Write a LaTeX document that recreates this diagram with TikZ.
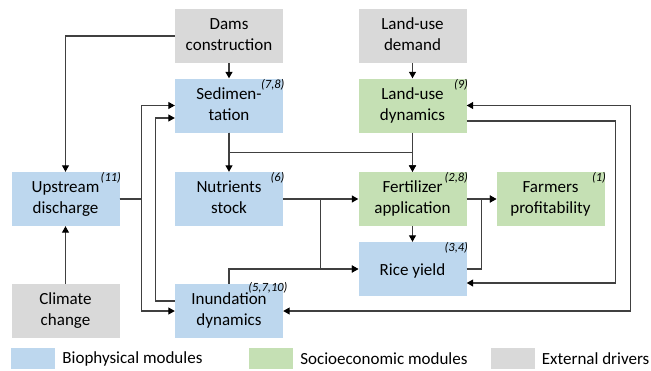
\documentclass[tikz,border=0pt]{standalone}
\usepackage{fontspec}
\setmainfont{Carlito}
\usetikzlibrary{arrows.meta,positioning}
\definecolor{biocol}{HTML}{BDD7EE}
\definecolor{soccol}{HTML}{C5E0B4}
\definecolor{extcol}{HTML}{D9D9D9}
\definecolor{linecol}{HTML}{404040}

\begin{document}
\begin{tikzpicture}[x=1pt, y=-1pt,
    box/.style={minimum width=108pt, minimum height=54pt, inner sep=0pt,
        align=center, font=\fontsize{17}{21}\selectfont,
        execute at begin node={\rule{0pt}{16.5pt}},
        execute at end node={\rule[-3.5pt]{0pt}{3.5pt}}},
    bio/.style={box, fill=biocol},
    soc/.style={box, fill=soccol},
    ext/.style={box, fill=extcol},
    num/.style={anchor=north east, inner sep=0.5pt, xshift=2pt,
        font=\fontsize{12.5}{14}\selectfont\itshape},
    link/.style={draw=linecol, line width=1.1pt,
        -{Triangle[length=6.5pt, width=7pt, color=black]}},
    biarrow/.style={draw=linecol, line width=1.1pt,
        {Triangle[length=6.5pt, width=7pt, color=black]}-{Triangle[length=6.5pt, width=7pt, color=black]}},
    legbox/.style={minimum width=44pt, minimum height=21pt, inner sep=0pt},
    legtext/.style={anchor=west, inner sep=0pt, xshift=7pt,
        font=\fontsize{17}{21}\selectfont}]
    \useasboundingbox (0,0) rectangle (651,370);

    \node[ext] (dams) at (229,36)    {Dams\\construction};
    \node[ext] (lud)  at (412.5,36)  {Land-use\\demand};
    \node[bio] (sed)  at (229,105.5) {Sedimen-\\tation};
    \node[soc] (lu)   at (412.5,105.5) {Land-use\\dynamics};
    \node[bio] (up)   at (65.5,199)  {Upstream\\discharge};
    \node[bio] (nut)  at (229,199)   {Nutrients\\stock};
    \node[soc] (fert) at (412.5,199) {Fertilizer\\application};
    \node[soc] (farm) at (550.5,199) {Farmers\\profitability};
    \node[bio] (rice) at (412.5,269) {Rice yield};
    \node[ext] (clim) at (65.5,311)  {Climate\\change};
    \node[bio] (inun) at (229,311)   {Inundation\\dynamics};

    \node[num] at (sed.north east)  {(7,8)};
    \node[num] at (lu.north east)   {(9)};
    \node[num] at (up.north east)   {(11)};
    \node[num] at (nut.north east)  {(6)};
    \node[num] at (fert.north east) {(2,8)};
    \node[num] at (farm.north east) {(1)};
    \node[num] at (rice.north east) {(3,4)};
    \node[num, xshift=3pt, yshift=2pt] at (inun.north east) {(5,7,10)};

    \path[link]
        (dams.west) -| (up.north);
    \path[link] (dams) -- (sed);
    \path[link] (lud) -- (lu);
    \path[link] (sed) -- (nut);
    \path[link] (lu) -- (fert);
    \path[link] (sed.south) -- ++(0,20) -| (fert.north);
    \path[link] (up.east) -- ++(22,0) |- (sed.west);
    \path[link] (up.east) -- ++(22,0) |- (inun.west);
    \path[link] ([yshift=10pt]inun.west) -- ++(-19,0) |- ([yshift=-12.5pt]sed.west);
    \path[link] (nut) -- (fert);
    \path[link] (nut.east) -- ++(37,0) |- (rice.west);
    \path[link] (inun.north) |- (rice.west);
    \path[link] (fert) -- (rice);
    \path[link] (fert) -- (farm);
    \path[link] (rice.east) -- ++(15,0) |- (farm.west);
    \path[link] ([yshift=-15.5pt]lu.east) -- ++(149,0) |- ([yshift=-14pt]rice.east);
    \path[biarrow] (inun.east) -- ++(347,0) |- (lu.east);
    \path[link] (clim) -- (up);

    % legend
    \node[legbox, fill=biocol] (legbio) at (33,358.5) {};
    \node[legtext] at (legbio.east) {Biophysical modules};
    \node[legbox, fill=soccol] (legsoc) at (271,358.5) {};
    \node[legtext] at (legsoc.east) {Socioeconomic modules};
    \node[legbox, fill=extcol] (legext) at (512.5,358.5) {};
    \node[legtext] at (legext.east) {External drivers};
\end{tikzpicture}
\end{document}
